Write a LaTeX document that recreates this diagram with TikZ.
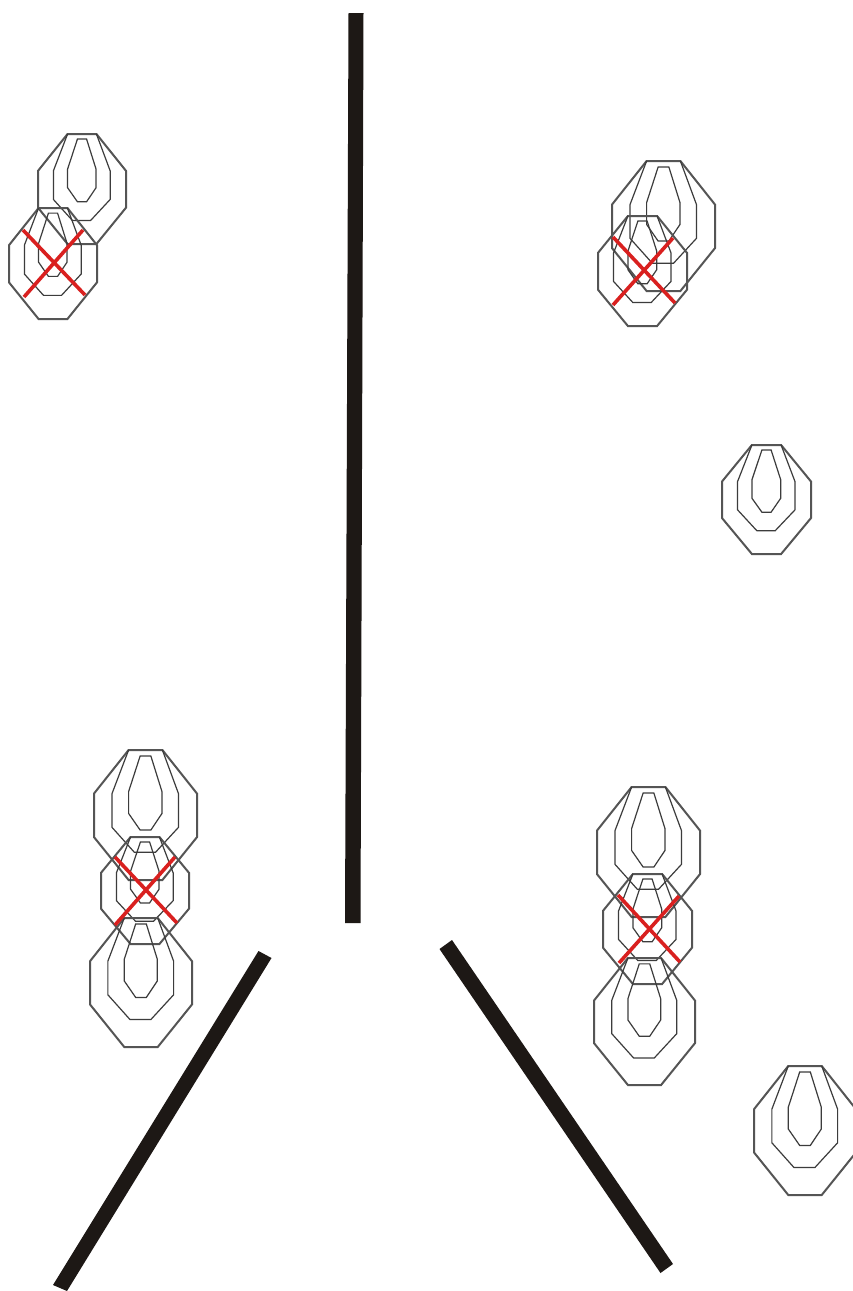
\documentclass[tikz,border=0pt]{standalone}
\definecolor{barblack}{HTML}{1D1815}
\definecolor{crossred}{HTML}{D9201F}
\definecolor{ringgrey}{HTML}{555555}
\definecolor{innergrey}{HTML}{3C3C3C}
\tikzset{
  outerring/.style={draw=ringgrey,line width=2pt,line join=miter},
  innerring/.style={draw=innergrey,line width=1.2pt,line join=miter},
  bar/.style={fill=barblack,draw=none},
  crossline/.style={draw=crossred,line width=3.6pt}
}
\newcommand{\gtarget}[4]{%
  \begin{scope}[shift={(#1,#2)},xscale=#3-#1,yscale=#4-#2]
    \draw[outerring] (.336,0)--(.664,0)--(1,.335)--(1,.67)--(.664,1)--(.336,1)--(0,.67)--(0,.335)--cycle;
    \draw[innerring] (.336,0)--(.175,.335)--(.175,.595)--(.392,.787)--(.597,.787)--(.82,.595)--(.82,.335)--(.664,0);
    \draw[innerring] (.448,.046)--(.552,.046)--(.66,.32)--(.66,.488)--(.552,.616)--(.448,.616)--(.336,.488)--(.336,.32)--cycle;
  \end{scope}}
\newcommand{\redcross}[8]{%
  \draw[crossline] (#1,#2)--(#3,#4);
  \draw[crossline] (#5,#6)--(#7,#8);}
\begin{document}
\begin{tikzpicture}[x=1pt,y=-1pt]
\useasboundingbox (0,0) rectangle (853,1291);
\clip (0,0) rectangle (853,1291);
\fill[white] (0,0) rectangle (853,1291);
\fill[bar] (348.5,13)--(363.5,13)--(360.5,923)--(345,923)--cycle;
\fill[bar] (258.5,951)--(271.5,958)--(67,1291)--(53,1285)--cycle;
\fill[bar] (452,940)--(439.5,949)--(660.5,1273)--(673,1264)--cycle;
\gtarget{38}{134}{126}{244}
\gtarget{9}{208}{97}{319}
\redcross{23}{230}{85}{295}{24}{297}{83}{230}
\gtarget{612}{161}{715}{291}
\gtarget{598}{216}{687}{326}
\redcross{613}{237}{675}{303}{613}{305}{673}{238}
\gtarget{722}{445}{811}{554}
\gtarget{94}{750}{197}{880}
\gtarget{101}{837}{189}{944}
\gtarget{90}{918}{192}{1047}
\redcross{115}{857}{177}{923}{115}{925}{175}{857}
\gtarget{597}{787}{700}{917}
\gtarget{603}{874}{692}{984}
\gtarget{594}{958}{695}{1085}
\redcross{618}{895}{680}{962}{619}{963}{679}{896}
\gtarget{754}{1066}{856}{1195}
\end{tikzpicture}
\end{document}
